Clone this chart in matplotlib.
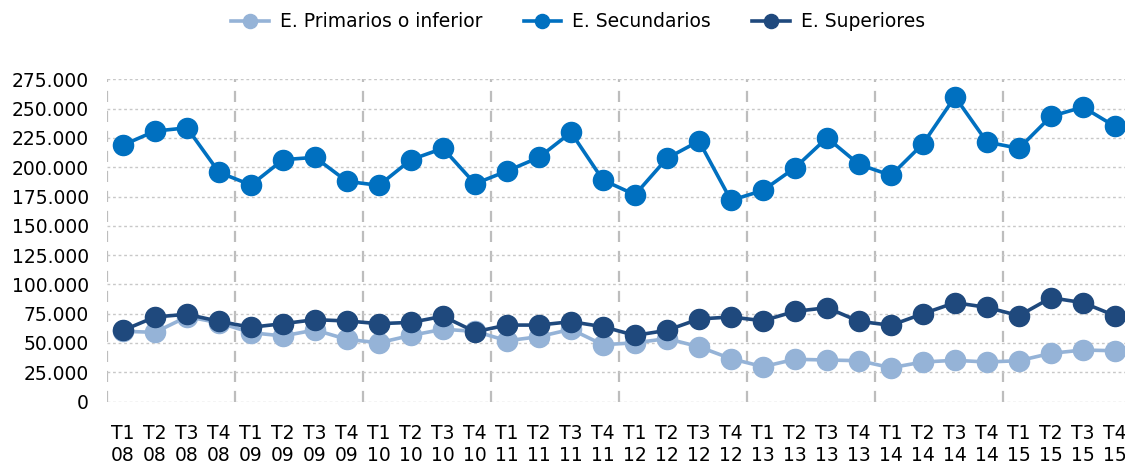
import matplotlib
matplotlib.use("Agg")
import matplotlib.pyplot as plt
from matplotlib.ticker import FuncFormatter, MultipleLocator

quarters = ["T1", "T2", "T3", "T4"]
years = ["08", "09", "10", "11", "12", "13", "14", "15"]
labels = [f"{q}\n{y}" for y in years for q in quarters]

primarios = [60000, 59100, 72400, 67300, 58800, 56000, 61100, 53100,
             50200, 56500, 61700, 60000, 51900, 55400, 61700, 48500,
             50200, 53700, 46800, 36600, 29800, 36100, 35500, 34900,
             28900, 33800, 35200, 33800, 34900, 41200, 44000, 43400]
secundarios = [218900, 230800, 233600, 195600, 184800, 206400, 208400, 187900,
               184500, 206400, 216100, 185900, 196700, 208400, 229700, 189000,
               176500, 207600, 222300, 171700, 180200, 199500, 225100, 202400,
               193000, 220000, 260100, 221400, 216100, 243400, 251300, 234800]
superiores = [60800, 72200, 74500, 68500, 63400, 66500, 69900, 68800,
              66500, 67600, 72800, 59600, 65300, 65300, 68200, 63900,
              56500, 60800, 70500, 72200, 69000, 77000, 80100, 68500,
              65100, 75000, 84400, 80400, 73300, 88600, 84400, 73300]

series_names = ["E. Primarios o inferior", "E. Secundarios", "E. Superiores"]
colors = ["#95B3D7", "#0070C0", "#1F497D"]

fig = plt.figure(figsize=(11.25, 4.7), dpi=100)
ax = fig.add_axes([107/1125, 1-401.6/470, (1131-107)/1125, (401.6-79.3)/470])

x = list(range(len(labels)))
for data, name, c in zip([primarios, secundarios, superiores], series_names, colors):
    ax.plot(x, data, color=c, lw=2.6, marker="o", markersize=14.5, label=name,
            solid_joinstyle="round", zorder=3)

ax.set_xlim(-0.5, len(labels) - 0.5)
ax.set_ylim(0, 275000)
ax.yaxis.set_major_locator(MultipleLocator(25000))
ax.yaxis.set_major_formatter(FuncFormatter(lambda v, p: f"{int(v):,}".replace(",", ".")))
ax.grid(axis="y", color="#C8C8C8", linestyle=(0, (2, 2)), lw=1, zorder=0)
for b in range(0, len(labels) + 1, 4):
    ax.axvline(b - 0.5, color="#BDBDBD", linestyle=(0, (5, 4)), lw=1.6, zorder=1)

ax.set_xticks(x)
ax.set_xticklabels(labels, linespacing=1.2)
for s in ax.spines.values():
    s.set_visible(False)
ax.tick_params(axis="both", length=0, labelsize=13.5, colors="#000000")
ax.tick_params(axis="x", pad=16)
ax.tick_params(axis="y", pad=13)

leg = fig.legend(loc="upper center", bbox_to_anchor=(0.514, 1.01), ncol=3, frameon=False,
                 prop={"family": "DejaVu Sans", "size": 13.5},
                 handlelength=2.0, columnspacing=2.2, handletextpad=0.6, markerscale=0.7)

fig.savefig("out.png", dpi=100)
